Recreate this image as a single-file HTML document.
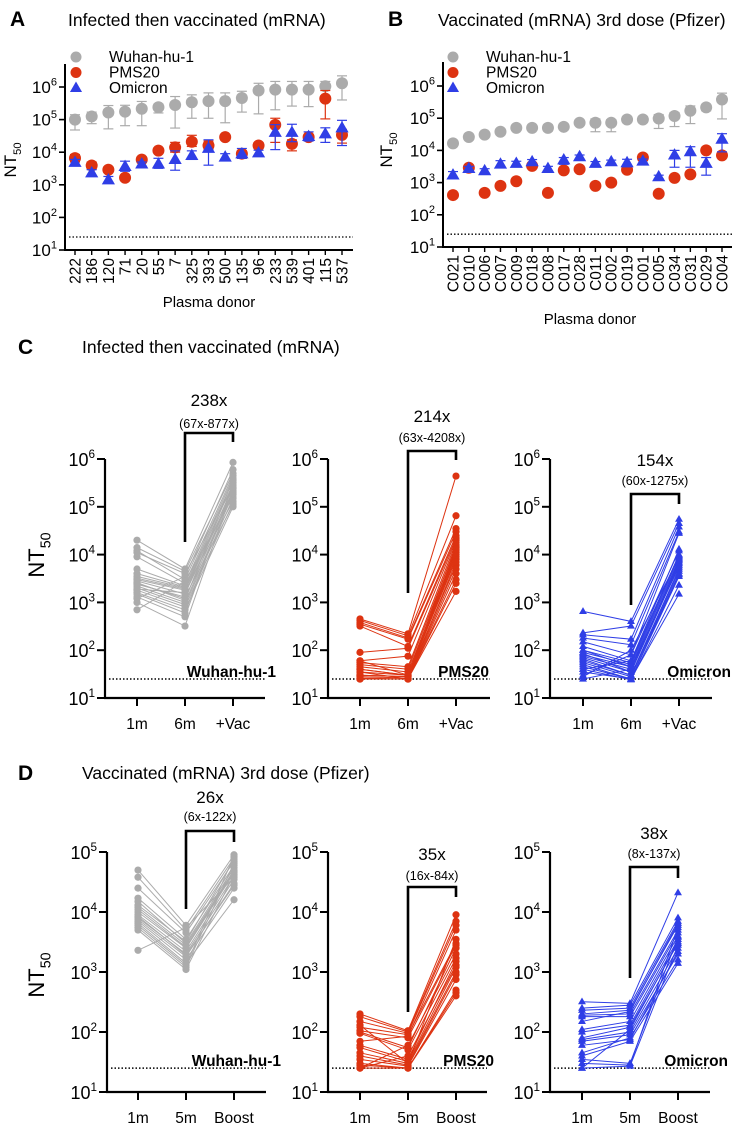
<!DOCTYPE html>
<html><head><meta charset="utf-8">
<style>
html,body{margin:0;padding:0;background:#fff;}
svg{display:block;font-family:"Liberation Sans",Arial,sans-serif;}
</style></head>
<body>
<svg id="fig" width="751" height="1142" viewBox="0 0 751 1142" xmlns="http://www.w3.org/2000/svg">
<text x="10" y="26" font-size="21" font-weight="bold">A</text>
<text x="68" y="26" font-size="17.5">Infected then vaccinated (mRNA)</text>
<text x="388" y="26" font-size="21" font-weight="bold">B</text>
<text x="438" y="26" font-size="17.5">Vaccinated (mRNA) 3rd dose (Pfizer)</text>
<text x="18" y="354" font-size="21" font-weight="bold">C</text>
<text x="82" y="353" font-size="17.5">Infected then vaccinated (mRNA)</text>
<text x="18" y="780" font-size="21" font-weight="bold">D</text>
<text x="82" y="779" font-size="17.5">Vaccinated (mRNA) 3rd dose (Pfizer)</text>
</svg>
<script>
// ---------- Panel A data ----------
const aDonors = ["222","186","120","71","20","55","7","325","393","500","135","96","233","539","401","115","537"];
const aWuhan = [100000,125000,165000,175000,215000,240000,280000,340000,370000,370000,460000,780000,830000,830000,830000,1050000,1300000];
const aWuhanHi = [141000,170000,270000,275000,360000,300000,510000,575000,660000,660000,740000,1300000,1480000,1480000,1480000,1480000,2200000];
const aWuhanLo = [48000,75000,52000,65000,65000,160000,55000,110000,110000,80000,170000,150000,200000,260000,250000,850000,400000];
const aPms = [6600,3900,2900,1650,5900,11200,14000,21000,16000,29000,9000,16000,69000,18000,29000,440000,34000];
const aPmsHi = [8500,5000,3500,1900,7000,13000,20000,33000,22000,33000,11000,19000,110000,24000,35000,780000,50000];
const aPmsLo = [5000,3000,2400,1400,4800,10000,10000,15000,12000,24000,6500,13000,20000,11000,24000,105000,19000];
const aOmi = [4800,2300,1400,3600,4300,4300,5900,7800,13000,7000,8800,9400,40000,40000,30000,36000,55000];
const aOmiHi = [6000,2900,1800,5300,5000,6500,11000,11000,24000,9000,13000,11500,70000,72000,42000,56000,95000];
const aOmiLo = [4000,1900,1200,2600,3700,3200,2800,6000,4000,6000,6500,8000,12000,21000,22000,20000,16000];
// ---------- Panel B data ----------
const bDonors = ["C021","C010","C006","C007","C009","C018","C008","C017","C028","C011","C002","C019","C001","C005","C034","C031","C029","C004"];
const bWuhan = [16500,26000,31000,38000,50000,50000,50000,54000,72000,72000,72000,91000,91000,98000,117000,170000,217000,380000];
const bWuhanHi = [19000,31000,36000,46000,60000,57000,62000,60000,82000,95000,90000,105000,105000,130000,150000,240000,230000,600000];
const bWuhanLo = [14500,22000,27000,31000,42000,44000,40000,48000,62000,38000,38000,78000,75000,48000,55000,68000,170000,95000];
const bPms = [410,2900,480,790,1100,3300,480,2400,2600,790,1000,2500,6000,450,1400,1800,10000,7000];
const bOmi = [1700,2700,2300,3700,3900,4400,2700,5000,6300,3900,4400,4100,4600,1500,7100,9000,3900,22000];
const bOmiHi = [2200,3200,2700,4800,4600,5200,3200,6000,7200,4500,5000,5300,5400,1700,10000,13000,6000,33000];
const bOmiLo = [1400,2300,2000,3000,3300,3700,2300,3700,5400,3400,3800,3100,4000,1300,3000,3000,1700,9000];
// ---------- Panel C data ----------
const cLabels = ["1m","6m","+Vac"];
const cWuhan1 = [20000,14000,12000,9000,5000,3500,3000,2800,2500,2200,2000,1800,1600,1500,1300,1200,1000,700,3200,2600,1900,4000,11000,2400];
const cWuhan2 = [5000,4500,3000,2500,2200,2000,1800,1500,1200,1000,900,800,700,600,500,3500,320,2800,1900,1100,1600,2100,4000,1300];
const cWuhan3 = [850000,500000,450000,400000,350000,300000,250000,220000,200000,180000,150000,120000,100000,280000,320000,600000,240000,160000,130000,380000,210000,190000,260000,110000];
const cPms1 = [450,420,380,350,320,90,60,55,50,45,40,35,30,28,26,25,25,25,40,30,25,60,35,25];
const cPms2 = [220,200,180,170,120,110,75,45,40,35,30,30,28,26,25,25,25,25,30,28,25,30,25,25];
const cPms3 = [440000,65000,35000,30000,25000,22000,20000,18000,15000,12000,10000,8000,6000,5000,4000,3000,1700,14000,16000,9000,7000,11000,2500,13000];
const cOmi1 = [650,230,210,180,150,120,100,90,80,75,70,60,55,50,45,40,35,30,28,25,100,65,40,85];
const cOmi2 = [400,320,170,130,80,60,55,50,45,40,35,30,28,25,25,24,25,80,100,40,45,30,60,35];
const cOmi3 = [55000,45000,38000,30000,28000,13000,10000,9000,8000,7000,6000,5000,4500,4000,3500,2300,1500,12000,8500,6500,5500,3800,9500,7500];
const cFolds = ["238x","214x","154x"];
const cRanges = ["(67x-877x)","(63x-4208x)","(60x-1275x)"];
// ---------- Panel D data ----------
const dLabels = ["1m","5m","Boost"];
const dWuhan1 = [50000,38000,25000,17000,15000,12000,10000,9000,8000,7500,7000,6500,6000,5500,5000,2300,11000,8500,13000];
const dWuhan2 = [6000,5000,4500,3500,3000,2800,2500,2200,2000,1800,1600,1400,1300,1200,1100,5500,2600,1900,3200];
const dWuhan3 = [90000,80000,70000,60000,55000,50000,45000,40000,35000,30000,25000,16000,85000,65000,42000,38000,48000,28000,75000];
const dPms1 = [200,180,150,120,105,100,95,60,55,45,40,35,30,28,25,25,25,70,130];
const dPms2 = [105,100,95,90,80,55,50,35,32,30,28,27,25,25,25,60,40,85,30];
const dPms3 = [9000,7000,6000,3000,2800,2500,1700,1500,1200,1000,900,750,500,450,400,2000,1300,5000,3500];
const dOmi1 = [320,250,230,200,190,180,110,100,80,75,70,45,40,35,30,25,25,150,60];
const dOmi2 = [300,280,250,230,200,180,150,130,120,100,90,80,70,30,28,27,110,220,75];
const dOmi3 = [21000,8000,7000,6000,5000,4500,4000,3500,3000,2500,2000,1600,1400,3800,5500,2800,3200,6500,2200];
const dFolds = ["26x","35x","38x"];
const dRanges = ["(6x-122x)","(16x-84x)","(8x-137x)"];
const limitValue = 25;

const NS = "http://www.w3.org/2000/svg";
const svg = document.getElementById('fig');
const GRAY = "#ababab", RED = "#dd3311", BLUE = "#2f3ee6";
function mk(tag, attrs, parent) {
  const e = document.createElementNS(NS, tag);
  for (const k in attrs) e.setAttribute(k, attrs[k]);
  (parent || svg).appendChild(e);
  return e;
}
function logScale(y10, dec) { return v => y10 - (Math.log10(v) - 1) * dec; }
function supText(x, y, exp, size, parent) {
  const t = mk('text', {x: x, y: y, 'font-size': size, 'text-anchor': 'end'}, parent);
  
  
  t.appendChild(document.createTextNode('10'));
  const s = document.createElementNS(NS, 'tspan');
  s.setAttribute('dy', -size * 0.45); s.setAttribute('font-size', size * 0.65);
  s.textContent = exp; t.appendChild(s);
  return t;
}
function marker(kind, x, y, r, color, parent) {
  let e;
  if (kind === 'tri') {
    const h = r * 1.9;
    e = mk('polygon', {points: `${x},${y - h * 0.62} ${x - r * 1.1},${y + h * 0.38} ${x + r * 1.1},${y + h * 0.38}`, fill: color}, parent);
  } else {
    e = mk('circle', {cx: x, cy: y, r: r, fill: color}, parent);
  }
  
  
  return e;
}
function ntLabel(x, y, size, parent) {
  const t = mk('text', {x: 0, y: 0, 'font-size': size, 'text-anchor': 'middle', transform: `translate(${x},${y}) rotate(-90)`}, parent);
  
  
  t.appendChild(document.createTextNode('NT'));
  const s = document.createElementNS(NS, 'tspan');
  s.setAttribute('dy', size * 0.3); s.setAttribute('font-size', size * 0.65); s.textContent = '50';
  t.appendChild(s);
}

// ---------- Donor panels (A, B) ----------
function donorPanel(cfg) {
  const g = mk('g', {});
  
  
  const y = logScale(cfg.y10, cfg.dec);
  const n = cfg.donors.length;
  const xs = i => cfg.x0 + i * (cfg.x1 - cfg.x0) / (n - 1);
  const ya = mk('line', {x1: cfg.ax, y1: cfg.y10, x2: cfg.ax, y2: cfg.yTop, stroke: '#000', 'stroke-width': 2}, g);
   
  const xa = mk('line', {x1: cfg.ax - 1, y1: cfg.y10, x2: cfg.xEnd, y2: cfg.y10, stroke: '#000', 'stroke-width': 2}, g);
   
  for (let e = 1; e <= 6; e++) {
    const yy = y(Math.pow(10, e));
    mk('line', {x1: cfg.ax - 6, y1: yy, x2: cfg.ax, y2: yy, stroke: '#000', 'stroke-width': 1.6}, g);
    supText(cfg.ax - 8, yy + 6, String(e), 17, g);
  }
  const dl = mk('line', {x1: cfg.ax + 4, y1: y(limitValue), x2: cfg.xEnd, y2: y(limitValue), stroke: '#000', 'stroke-width': 1.3, 'stroke-dasharray': '1.5,2'}, g);
   
  cfg.donors.forEach((d, i) => {
    const x = xs(i);
    mk('line', {x1: x, y1: cfg.y10, x2: x, y2: cfg.y10 + 5, stroke: '#000', 'stroke-width': 1.4}, g);
    const t = mk('text', {x: 0, y: 0, 'font-size': 15.5, 'text-anchor': 'end', transform: `translate(${x + 5.5},${cfg.y10 + 8}) rotate(-90)`}, g);
     
    t.textContent = d;
  });
  const xt = mk('text', {x: cfg.xTitleX, y: cfg.xTitleY, 'font-size': 15, 'text-anchor': 'middle'}, g);
   
  xt.textContent = 'Plasma donor';
  ntLabel(cfg.ntX, cfg.ntY, 17, g);
  cfg.series.forEach(s => {
    s.vals.forEach((v, i) => {
      const x = xs(i);
      if (s.hi) {
        const hi = y(s.hi[i]), lo = y(s.lo[i]);
        mk('line', {x1: x, y1: hi, x2: x, y2: lo, stroke: s.color, 'stroke-width': 1.2}, g);
        mk('line', {x1: x - 5, y1: hi, x2: x + 5, y2: hi, stroke: s.color, 'stroke-width': 1.2}, g);
        mk('line', {x1: x - 5, y1: lo, x2: x + 5, y2: lo, stroke: s.color, 'stroke-width': 1.2}, g);
      }
      marker(s.kind, x, y(v), 6, s.color, g);
    });
  });
  cfg.series.forEach((s, k) => {
    const ly = cfg.legY + k * 15.5;
    marker(s.kind, cfg.legX, ly, 5.5, s.color, g);
    const t = mk('text', {x: cfg.legX + 33, y: ly + 5, 'font-size': 15.5}, g);
     
    t.textContent = s.label;
  });
}
donorPanel({name: 'panel-a-chart', donors: aDonors, ax: 65, y10: 250, dec: 32.6, yTop: 64, x0: 75, x1: 342, xEnd: 353,
  xTitleX: 209, xTitleY: 307, ntX: 16, ntY: 160, legX: 76, legY: 57,
  series: [
    {label: 'Wuhan-hu-1', color: GRAY, kind: 'c', vals: aWuhan, hi: aWuhanHi, lo: aWuhanLo},
    {label: 'PMS20', color: RED, kind: 'c', vals: aPms, hi: aPmsHi, lo: aPmsLo},
    {label: 'Omicron', color: BLUE, kind: 'tri', vals: aOmi, hi: aOmiHi, lo: aOmiLo}]});
donorPanel({name: 'panel-b-chart', donors: bDonors, ax: 443, y10: 247, dec: 32.2, yTop: 62, x0: 453, x1: 722, xEnd: 732,
  xTitleX: 590, xTitleY: 324, ntX: 392, ntY: 150, legX: 453, legY: 57,
  series: [
    {label: 'Wuhan-hu-1', color: GRAY, kind: 'c', vals: bWuhan, hi: bWuhanHi, lo: bWuhanLo},
    {label: 'PMS20', color: RED, kind: 'c', vals: bPms},
    {label: 'Omicron', color: BLUE, kind: 'tri', vals: bOmi, hi: bOmiHi, lo: bOmiLo}]});

// ---------- Paired panels (C, D) ----------
function pairedPanel(cfg) {
  const g = mk('g', {});
  
  
  const y = logScale(cfg.y10, cfg.dec);
  const yTop = y(Math.pow(10, cfg.topExp));
  const ya = mk('line', {x1: cfg.ax, y1: cfg.y10 + 1, x2: cfg.ax, y2: yTop, stroke: '#000', 'stroke-width': 2.2}, g);
   
  const xa = mk('line', {x1: cfg.ax - 1, y1: cfg.y10, x2: cfg.xEnd, y2: cfg.y10, stroke: '#000', 'stroke-width': 2.2}, g);
   
  for (let e = 1; e <= cfg.topExp; e++) {
    const yy = y(Math.pow(10, e));
    mk('line', {x1: cfg.ax - 8, y1: yy, x2: cfg.ax, y2: yy, stroke: '#000', 'stroke-width': 2}, g);
    supText(cfg.ax - 10, yy + 7, String(e), 18, g);
  }
  cfg.labels.forEach((l, i) => {
    mk('line', {x1: cfg.ticks[i], y1: cfg.y10, x2: cfg.ticks[i], y2: cfg.y10 + 8, stroke: '#000', 'stroke-width': 2}, g);
    const t = mk('text', {x: cfg.ticks[i], y: cfg.y10 + 31, 'font-size': 15.5, 'text-anchor': 'middle'}, g);
     
    t.textContent = l;
  });
  const dl = mk('line', {x1: cfg.ax + 4, y1: y(limitValue), x2: cfg.xEnd, y2: y(limitValue), stroke: '#000', 'stroke-width': 1.5, 'stroke-dasharray': '1.5,2'}, g);
   
  const vt = mk('text', {x: cfg.varX, y: y(limitValue) - 2, 'font-size': 15.5, 'font-weight': 'bold', 'text-anchor': 'end'}, g);
   
  vt.textContent = cfg.variant;
  const n = cfg.s1.length;
  for (let i = 0; i < n; i++) {
    const pts = [cfg.s1[i], cfg.s2[i], cfg.s3[i]];
    const pl = mk('polyline', {points: pts.map((v, k) => `${cfg.ticks[k]},${y(v)}`).join(' '), fill: 'none', stroke: cfg.color, 'stroke-width': 1}, g);
     
  }
  for (let i = 0; i < n; i++) {
    [cfg.s1[i], cfg.s2[i], cfg.s3[i]].forEach((v, k) => marker(cfg.kind, cfg.ticks[k], y(v), 3.6, cfg.color, g));
  }
  const b = cfg.br;
  const bp = mk('polyline', {points: `${cfg.ticks[1]},${b.l} ${cfg.ticks[1]},${b.top} ${cfg.ticks[2]},${b.top} ${cfg.ticks[2]},${b.r}`, fill: 'none', stroke: '#000', 'stroke-width': 2.6}, g);
   
  const cx = (cfg.ticks[1] + cfg.ticks[2]) / 2;
  const ft = mk('text', {x: cx, y: b.fy + 6, 'font-size': 17, 'text-anchor': 'middle'}, g);
   
  ft.textContent = cfg.fold;
  const rt = mk('text', {x: cx, y: b.ry + 5, 'font-size': 12.5, 'text-anchor': 'middle'}, g);
   
  rt.textContent = cfg.range;
}
const cY10 = 698, cDec = 47.8;
pairedPanel({name: 'panel-c-wuhan', ax: 105, y10: cY10, dec: cDec, topExp: 6, ticks: [137, 185, 233], xEnd: 265, labels: cLabels,
  color: GRAY, kind: 'c', s1: cWuhan1, s2: cWuhan2, s3: cWuhan3, variant: 'Wuhan-hu-1', varX: 276,
  fold: cFolds[0], range: cRanges[0], br: {top: 433, l: 542, r: 442, fy: 400, ry: 423}});
pairedPanel({name: 'panel-c-pms20', ax: 328, y10: cY10, dec: cDec, topExp: 6, ticks: [360, 408, 456], xEnd: 490, labels: cLabels,
  color: RED, kind: 'c', s1: cPms1, s2: cPms2, s3: cPms3, variant: 'PMS20', varX: 489,
  fold: cFolds[1], range: cRanges[1], br: {top: 451, l: 593, r: 460, fy: 416, ry: 437}});
pairedPanel({name: 'panel-c-omicron', ax: 550, y10: cY10, dec: cDec, topExp: 6, ticks: [583, 631, 679], xEnd: 712, labels: cLabels,
  color: BLUE, kind: 'tri', s1: cOmi1, s2: cOmi2, s3: cOmi3, variant: 'Omicron', varX: 731,
  fold: cFolds[2], range: cRanges[2], br: {top: 494, l: 605, r: 504, fy: 460, ry: 480}});
const dY10 = 1092, dDec = 60;
pairedPanel({name: 'panel-d-wuhan', ax: 107, y10: dY10, dec: dDec, topExp: 5, ticks: [138, 186, 234], xEnd: 266, labels: dLabels,
  color: GRAY, kind: 'c', s1: dWuhan1, s2: dWuhan2, s3: dWuhan3, variant: 'Wuhan-hu-1', varX: 281,
  fold: dFolds[0], range: dRanges[0], br: {top: 831, l: 909, r: 842, fy: 797, ry: 816}});
pairedPanel({name: 'panel-d-pms20', ax: 328, y10: dY10, dec: dDec, topExp: 5, ticks: [360, 408, 456], xEnd: 487, labels: dLabels,
  color: RED, kind: 'c', s1: dPms1, s2: dPms2, s3: dPms3, variant: 'PMS20', varX: 494,
  fold: dFolds[1], range: dRanges[1], br: {top: 887, l: 1012, r: 897, fy: 854, ry: 875}});
pairedPanel({name: 'panel-d-omicron', ax: 550, y10: dY10, dec: dDec, topExp: 5, ticks: [582, 630, 678], xEnd: 710, labels: dLabels,
  color: BLUE, kind: 'tri', s1: dOmi1, s2: dOmi2, s3: dOmi3, variant: 'Omicron', varX: 728,
  fold: dFolds[2], range: dRanges[2], br: {top: 867, l: 978, r: 878, fy: 833, ry: 853}});
ntLabel(44, 555, 22, svg);
ntLabel(44, 975, 22, svg);
</script>
</body></html>
